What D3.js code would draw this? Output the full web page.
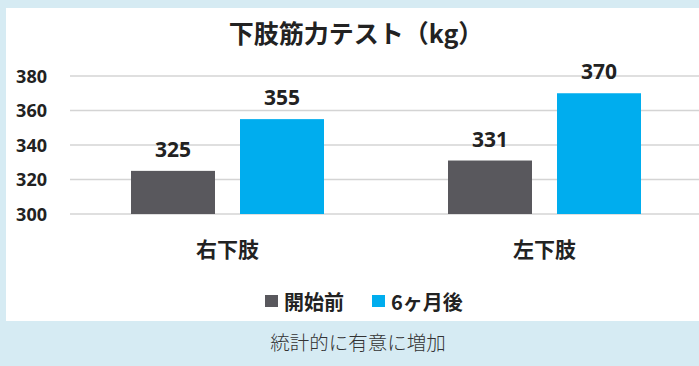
<!DOCTYPE html>
<html><head><meta charset="utf-8">
<script src="https://cdn.jsdelivr.net/npm/d3@7"></script>
<style>
html,body{margin:0;padding:0;background:#d6ebf3;}
svg{display:block;}
</style></head>
<body>
<svg id="c" width="699" height="366"></svg>
<script>
const categories = ["右下肢", "左下肢"];
const seriesNames = ["開始前", "6ヶ月後"];
const before = [325, 331];
const after = [355, 370];
const yTicks = [300, 320, 340, 360, 380];
const title = "下肢筋力テスト（kg）";
const note = "統計的に有意に増加";

const colors = ["#59585d", "#00adee"];
const font = "'Noto Sans CJK JP', 'Open Sans', sans-serif";

const svg = d3.select("#c");
svg.append("rect").attr("x",0).attr("y",0).attr("width",699).attr("height",366).attr("fill","#d6ebf3");
svg.append("rect").attr("x",6).attr("y",8).attr("width",693).attr("height",313).attr("fill","#ffffff");

const x0 = d3.scaleBand().domain(categories).range([69, 703]).paddingInner(0).paddingOuter(0);
const y = d3.scaleLinear().domain([300, 380]).range([214, 76]);

// gridlines
svg.append("g").selectAll("line").data(yTicks).join("line")
  .attr("x1", 70).attr("x2", 699)
  .attr("y1", d => y(d)).attr("y2", d => y(d))
  .attr("stroke", "#d4d4d4").attr("stroke-width", 1.5);

// y axis labels
const yAxis = d3.axisLeft(y).tickValues(yTicks).tickSize(0).tickPadding(0);
const ga = svg.append("g").attr("transform", "translate(47,0)").call(yAxis);
ga.select(".domain").remove();
ga.selectAll("text").attr("font-family", "'Open Sans', sans-serif").attr("font-size", 18).attr("font-weight", "bold").attr("fill", "#222").attr("dy","0.35em");

const data = categories.map((c, i) => ({cat: c, vals: [before[i], after[i]]}));
const barW = 84, gap = 25;
data.forEach(d => {
  const cx = x0(d.cat) + x0.bandwidth() / 2;
  d.vals.forEach((v, j) => {
    const bx = cx - gap/2 - barW + j * (barW + gap);
    svg.append("rect").attr("x", bx).attr("y", y(v)).attr("width", barW).attr("height", y(300) - y(v)).attr("fill", colors[j]);
    svg.append("text").attr("x", bx + barW/2).attr("y", y(v) - 14)
      .attr("text-anchor","middle").attr("font-family", "'Open Sans', sans-serif").attr("font-size", 21).attr("font-weight","bold").attr("fill","#222").text(v);
  });
  svg.append("text").attr("x", cx).attr("y", 257).attr("text-anchor","middle")
    .attr("font-family", font).attr("font-size", 21).attr("font-weight","bold").attr("fill","#222").text(d.cat);
});

// title
svg.append("text").attr("x", 356).attr("y", 43).attr("text-anchor","middle")
  .attr("font-family", font).attr("font-size", 25).attr("font-weight","bold").attr("fill","#222").text(title);

// legend
const legX = [265, 372];
seriesNames.forEach((s, j) => {
  svg.append("rect").attr("x", legX[j]).attr("y", 295).attr("width", 13).attr("height", 12).attr("fill", colors[j]);
  svg.append("text").attr("x", legX[j] + 19).attr("y", 310).attr("font-family", font).attr("font-size", 20).attr("font-weight","bold").attr("fill","#222").text(s);
});

// note
svg.append("text").attr("x", 358).attr("y", 350).attr("text-anchor","middle")
  .attr("font-family", font).attr("font-size", 19.5).attr("font-weight", 300).attr("fill","#333").text(note);
</script>
</body></html>
